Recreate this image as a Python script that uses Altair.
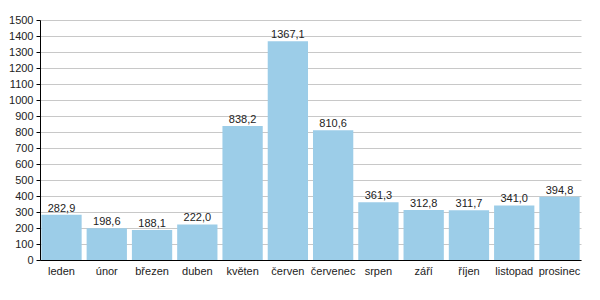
import altair as alt
import pandas as pd

months = ["leden", "únor", "březen", "duben", "květen", "červen", "červenec",
          "srpen", "září", "říjen", "listopad", "prosinec"]
values = [282.9, 198.6, 188.1, 222.0, 838.2, 1367.1, 810.6, 361.3, 312.8, 311.7, 341.0, 394.8]
y_ticks = list(range(0, 1501, 100))

df = pd.DataFrame({"month": months, "value": values,
                   "label": [f"{v:.1f}".replace(".", ",") for v in values]})

FONT = "Liberation Sans"

x = alt.X("month:N", sort=months, title=None,
          scale=alt.Scale(paddingInner=0.11, paddingOuter=0.03),
          axis=alt.Axis(labelAngle=0, ticks=False, domainColor="black",
                        labelColor="#222", labelFont=FONT, labelFontSize=11, labelPadding=5))
y = alt.Y("value:Q", title=None,
          scale=alt.Scale(domain=[0, 1500], nice=False),
          axis=alt.Axis(values=y_ticks, format="d", labelOverlap=False, labelFlush=False,
                        domainColor="black",
                        tickColor="black", tickSize=4, gridColor="#c8c8c8",
                        labelColor="#222", labelFont=FONT, labelFontSize=11, labelPadding=3))

base = alt.Chart(df).encode(x=x, y=y)
bars = base.mark_bar(color="#9ccde8")
text = base.mark_text(dy=-6, font=FONT, fontSize=11, color="#222").encode(text="label:N")

chart = alt.layer(bars, text).properties(
    width=541, height=240,
    autosize=alt.AutoSizeParams(type="none"),
    padding={"left": 40, "top": 20, "right": 19, "bottom": 40},
).configure_view(stroke=None)

chart.save("out.html", embed_options={"renderer": "svg", "actions": False})
